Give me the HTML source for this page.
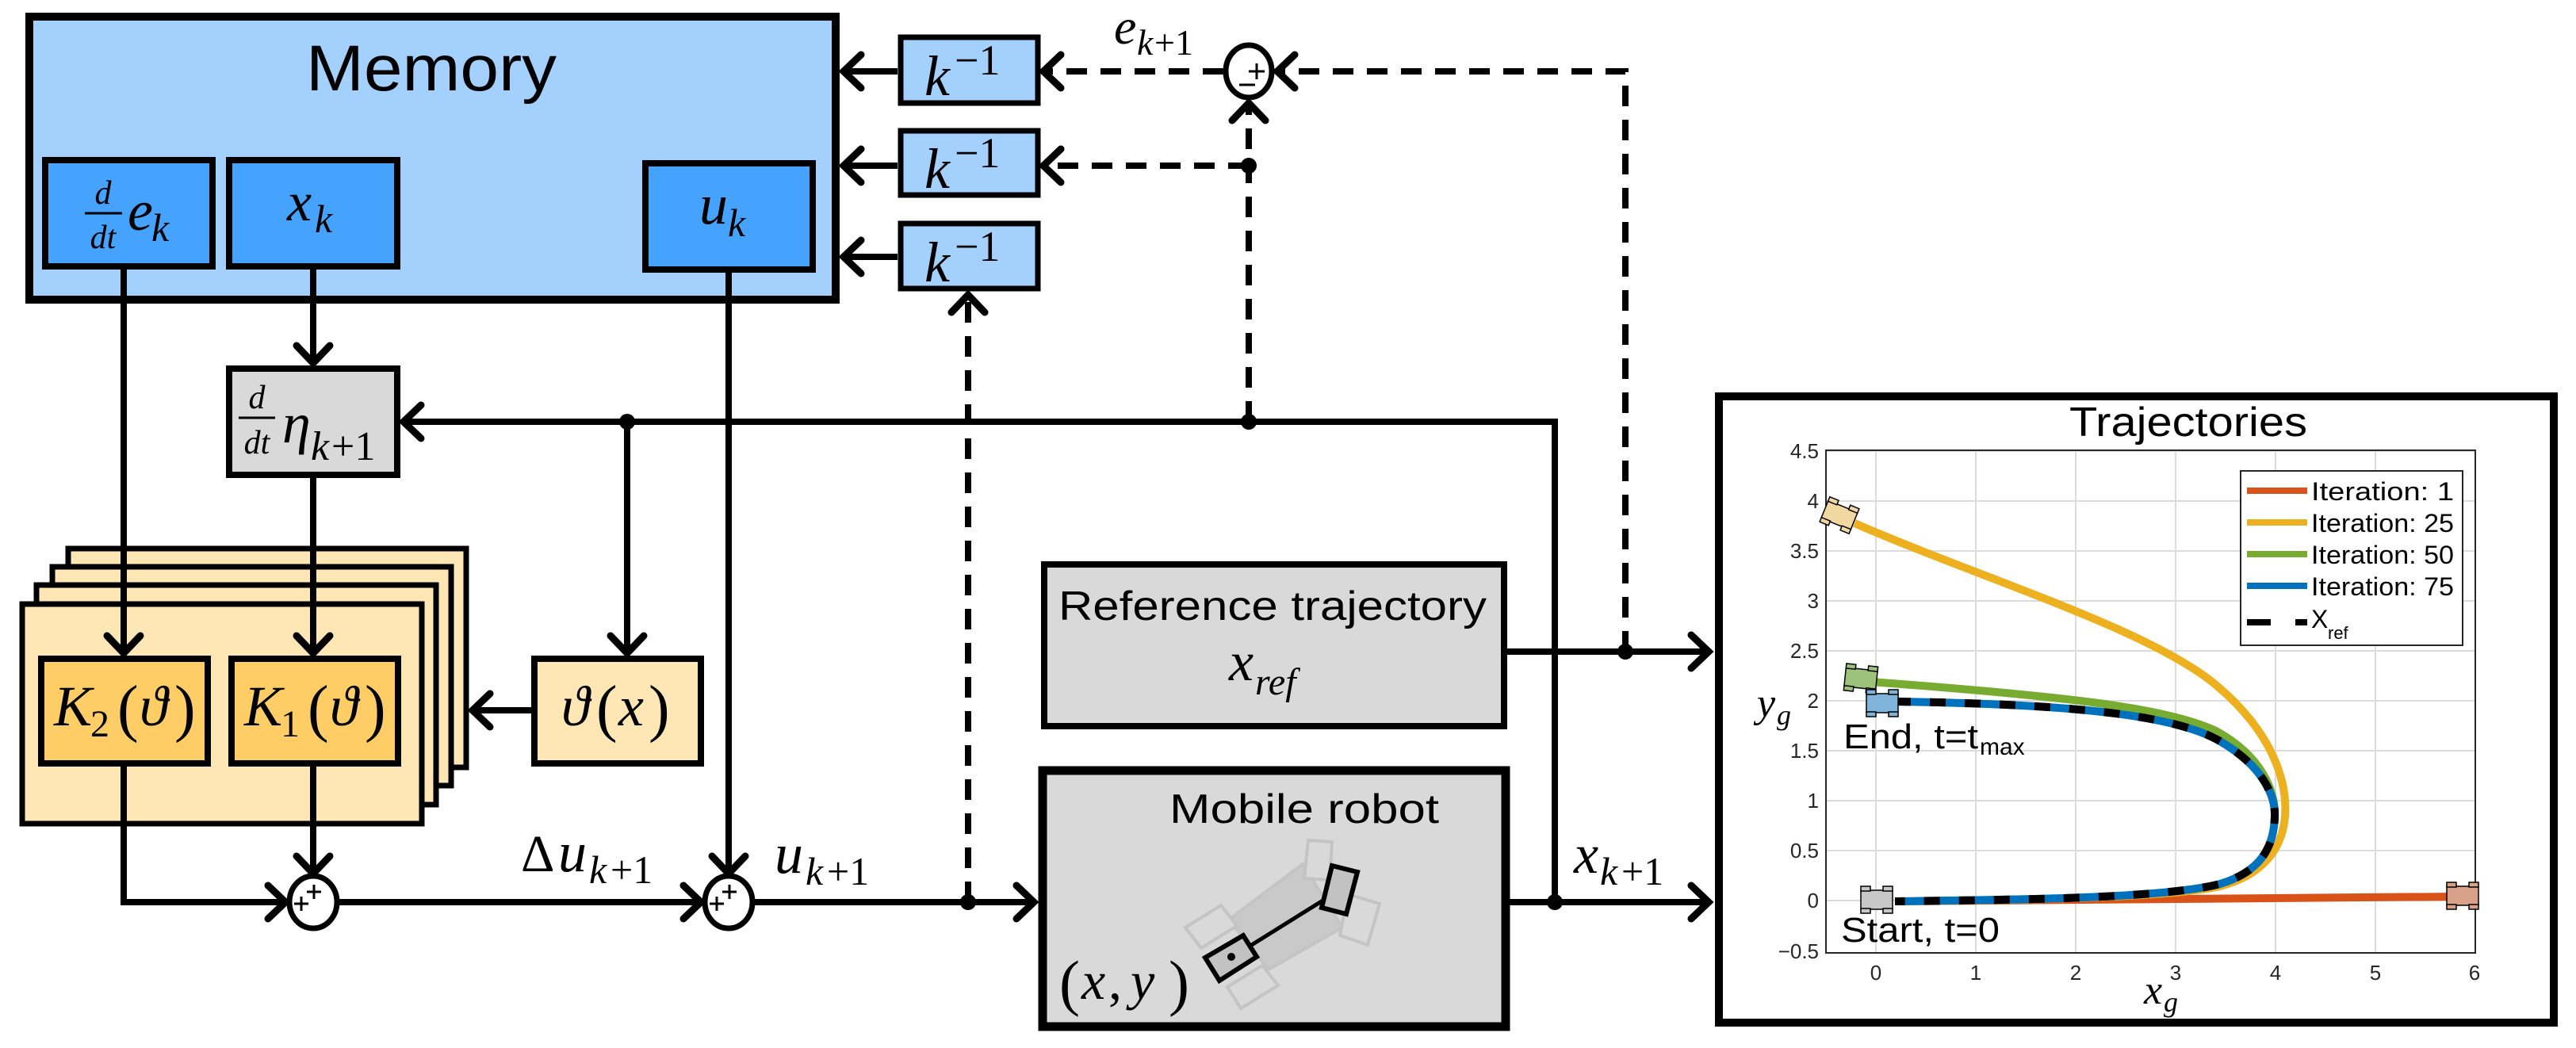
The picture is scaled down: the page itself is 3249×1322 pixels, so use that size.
<!DOCTYPE html>
<html><head><meta charset="utf-8"><style>html,body{margin:0;padding:0;background:#fff}svg{display:block}</style></head>
<body>
<svg width="3249" height="1322" viewBox="0 0 3249 1322" xmlns="http://www.w3.org/2000/svg">
<defs>
<marker id="a" markerUnits="userSpaceOnUse" viewBox="-40 -30 50 60" markerWidth="50" markerHeight="60" refX="0" refY="0" orient="auto">
<path d="M-24,-21 L-2,0 L-24,21" fill="none" stroke="#000" stroke-width="9" stroke-linecap="round" stroke-linejoin="miter"/>
</marker>
</defs>
<g font-family="Liberation Serif, serif" font-style="italic" fill="#000">

<rect x="37" y="21" width="1017" height="357" fill="#a3d0fd" stroke="#000" stroke-width="10"/>
<text x="544" y="114" font-family="Liberation Sans, sans-serif" font-style="normal" font-size="82" text-anchor="middle" textLength="316" lengthAdjust="spacingAndGlyphs">Memory</text>
<rect x="57" y="202" width="211" height="134" fill="#45a3fd" stroke="#000" stroke-width="8"/>
<rect x="289" y="202" width="212" height="134" fill="#45a3fd" stroke="#000" stroke-width="8"/>
<rect x="814" y="206" width="211" height="134" fill="#45a3fd" stroke="#000" stroke-width="8"/>
<text x="130" y="257" font-size="42" text-anchor="middle">d</text>
<line x1="107" y1="269" x2="154" y2="269" stroke="#000" stroke-width="3"/>
<text x="130" y="313" font-size="42" text-anchor="middle">dt</text>
<text x="161" y="290" font-size="72">e</text>
<text x="191" y="304" font-size="50">k</text>
<text x="362" y="278" font-size="70">x</text>
<text x="397" y="293" font-size="50">k</text>
<text x="882" y="282" font-size="72">u</text>
<text x="918" y="298" font-size="50">k</text>

<rect x="1136" y="47" width="173" height="83" fill="#a3d0fd" stroke="#000" stroke-width="7"/>
<rect x="1136" y="165" width="173" height="81" fill="#a3d0fd" stroke="#000" stroke-width="7"/>
<rect x="1136" y="282" width="173" height="82" fill="#a3d0fd" stroke="#000" stroke-width="7"/>
<g font-size="72">
<text x="1166" y="120">k</text><text x="1204" y="94" font-style="normal" font-size="54">−1</text>
<text x="1166" y="237">k</text><text x="1204" y="211" font-style="normal" font-size="54">−1</text>
<text x="1166" y="355">k</text><text x="1204" y="329" font-style="normal" font-size="54">−1</text>
</g>
<text x="1405" y="55" font-size="64">e</text>
<text x="1434" y="69" font-size="46">k</text><text x="1456" y="69" font-size="46" font-style="normal">+1</text>

<rect x="289" y="465" width="212" height="134" fill="#d9d9d9" stroke="#000" stroke-width="8"/>
<text x="324" y="515" font-size="42" text-anchor="middle">d</text>
<line x1="301" y1="527" x2="347" y2="527" stroke="#000" stroke-width="3"/>
<text x="324" y="572" font-size="42" text-anchor="middle">dt</text>
<text x="356" y="558" font-size="72">η</text>
<text x="392" y="580" font-size="52">k</text><text x="418" y="580" font-size="52" font-style="normal">+1</text>

<rect x="86" y="692" width="502" height="276" fill="#fee7b5" stroke="#000" stroke-width="7"/>
<rect x="66" y="715" width="503" height="276" fill="#fee7b5" stroke="#000" stroke-width="7"/>
<rect x="46" y="738" width="504" height="277" fill="#fee7b5" stroke="#000" stroke-width="7"/>
<rect x="28" y="762" width="504" height="277" fill="#fee7b5" stroke="#000" stroke-width="7"/>
<rect x="52" y="831" width="210" height="132" fill="#fecd66" stroke="#000" stroke-width="8"/>
<rect x="292" y="831" width="210" height="132" fill="#fecd66" stroke="#000" stroke-width="8"/>
<rect x="674" y="831" width="210" height="132" fill="#fee7b5" stroke="#000" stroke-width="8"/>
<text x="68" y="915" font-size="72">K</text><text x="114" y="929" font-size="48" font-style="normal">2</text>
<text x="148" y="920" font-size="80" font-style="normal">(</text><text x="176" y="915" font-size="72">ϑ</text><text x="220" y="920" font-size="80" font-style="normal">)</text>
<text x="308" y="915" font-size="72">K</text><text x="354" y="929" font-size="48" font-style="normal">1</text>
<text x="388" y="920" font-size="80" font-style="normal">(</text><text x="416" y="915" font-size="72">ϑ</text><text x="460" y="920" font-size="80" font-style="normal">)</text>
<text x="708" y="915" font-size="72">ϑ</text><text x="752" y="920" font-size="80" font-style="normal">(</text><text x="780" y="915" font-size="72">x</text><text x="818" y="920" font-size="80" font-style="normal">)</text>

<text x="657" y="1099" font-size="66" font-style="normal">Δ</text><text x="704" y="1099" font-size="72">u</text>
<text x="743" y="1114" font-size="50">k</text><text x="770" y="1114" font-size="50" font-style="normal">+1</text>
<text x="977" y="1101" font-size="72">u</text>
<text x="1016" y="1116" font-size="50">k</text><text x="1043" y="1116" font-size="50" font-style="normal">+1</text>

<rect x="1317" y="712" width="580" height="204" fill="#d9d9d9" stroke="#000" stroke-width="8"/>
<text x="1605" y="782" font-family="Liberation Sans, sans-serif" font-style="normal" font-size="52" text-anchor="middle" textLength="540" lengthAdjust="spacingAndGlyphs">Reference trajectory</text>
<text x="1550" y="858" font-size="70">x</text><text x="1583" y="876" font-size="48">ref</text>
<rect x="1315" y="972" width="584" height="323" fill="#d9d9d9" stroke="#000" stroke-width="11"/>
<text x="1645" y="1038" font-family="Liberation Sans, sans-serif" font-style="normal" font-size="52" text-anchor="middle" textLength="340" lengthAdjust="spacingAndGlyphs">Mobile robot</text>
<text x="1336" y="1266" font-size="78" font-style="normal">(</text><text x="1364" y="1260" font-size="68">x</text><text x="1398" y="1260" font-size="68" font-style="normal">,</text><text x="1426" y="1260" font-size="68">y</text><text x="1474" y="1266" font-size="78" font-style="normal">)</text>
<g stroke="#c4c4c4" stroke-width="4" fill="none">
<polygon points="1643,1090 1693,1170 1600,1223 1550,1160" fill="#c9c9c9"/>
<polygon points="1650,1060 1680,1062 1677,1110 1645,1108" fill="#d9d9d9"/>
<polygon points="1700,1128 1740,1140 1725,1192 1690,1180" fill="#d9d9d9"/>
<polygon points="1495,1170 1540,1142 1560,1168 1515,1196" fill="#d9d9d9"/>
<polygon points="1548,1245 1592,1218 1612,1243 1565,1272" fill="#d9d9d9"/>
</g>
<line x1="1577" y1="1193" x2="1670" y2="1135" stroke="#000" stroke-width="5"/>
<polygon points="1520,1208 1568,1180 1585,1207 1538,1237" fill="#c2c2c2" stroke="#000" stroke-width="6"/>
<circle cx="1553" cy="1207" r="5" fill="#000"/>
<polygon points="1680,1092 1712,1100 1698,1153 1667,1145" fill="#c2c2c2" stroke="#000" stroke-width="6"/>

<text x="1985" y="1101" font-size="70">x</text>
<text x="2018" y="1116" font-size="50">k</text><text x="2045" y="1116" font-size="50" font-style="normal">+1</text>
</g>

<g stroke="#000" stroke-width="8" fill="none">
<line x1="156" y1="340" x2="156" y2="826" marker-end="url(#a)"/>
<line x1="395" y1="340" x2="395" y2="460" marker-end="url(#a)"/>
<line x1="395" y1="603" x2="395" y2="826" marker-end="url(#a)"/>
<line x1="395" y1="967" x2="395" y2="1104" marker-end="url(#a)"/>
<polyline points="156,967 156,1138 362,1138" marker-end="url(#a)"/>
<line x1="427" y1="1138" x2="886" y2="1138" marker-end="url(#a)"/>
<line x1="919" y1="344" x2="919" y2="1104" marker-end="url(#a)"/>
<line x1="951" y1="1138" x2="1306" y2="1138" marker-end="url(#a)"/>
<polyline points="1961,1138 1961,532 507,532" marker-end="url(#a)"/>
<line x1="791" y1="532" x2="791" y2="826" marker-end="url(#a)"/>
<line x1="670" y1="896" x2="594" y2="896" marker-end="url(#a)"/>
<line x1="1132" y1="90" x2="1062" y2="90" marker-end="url(#a)"/>
<line x1="1132" y1="209" x2="1062" y2="209" marker-end="url(#a)"/>
<line x1="1132" y1="324" x2="1062" y2="324" marker-end="url(#a)"/>
<line x1="1901" y1="822" x2="2157" y2="822" marker-end="url(#a)"/>
<line x1="1904" y1="1138" x2="2157" y2="1138" marker-end="url(#a)"/>
</g>
<g stroke="#000" stroke-width="8" fill="none" stroke-dasharray="26 17">
<line x1="1221" y1="1138" x2="1221" y2="370" marker-end="url(#a)"/>
<line x1="1575" y1="532" x2="1575" y2="128" marker-end="url(#a)"/>
<line x1="1575" y1="209" x2="1314" y2="209" marker-end="url(#a)"/>
<line x1="1543" y1="90" x2="1314" y2="90" marker-end="url(#a)"/>
<polyline points="2050,822 2050,90 1609,90" marker-end="url(#a)"/>
</g>
<g fill="#000">
<circle cx="791" cy="532" r="10"/><circle cx="1575" cy="532" r="10"/><circle cx="1575" cy="209" r="10"/>
<circle cx="1221" cy="1138" r="10"/><circle cx="1961" cy="1138" r="10"/><circle cx="2050" cy="822" r="10"/>
</g>
<g stroke="#000" fill="#fff" stroke-width="7">
<ellipse cx="1575" cy="90" rx="29" ry="33"/>
<ellipse cx="395" cy="1138" rx="30" ry="33"/>
<ellipse cx="919" cy="1138" rx="30" ry="33"/>
</g>
<g stroke="#000" stroke-width="3">
<line x1="1575" y1="90" x2="1595" y2="90"/><line x1="1585" y1="80" x2="1585" y2="100"/>
<line x1="1563" y1="107" x2="1583" y2="107"/>
<line x1="387" y1="1125" x2="405" y2="1125"/><line x1="396" y1="1116" x2="396" y2="1134"/>
<line x1="371" y1="1140" x2="389" y2="1140"/><line x1="380" y1="1131" x2="380" y2="1149"/>
<line x1="911" y1="1125" x2="929" y2="1125"/><line x1="920" y1="1116" x2="920" y2="1134"/>
<line x1="895" y1="1140" x2="913" y2="1140"/><line x1="904" y1="1131" x2="904" y2="1149"/>
</g>

<rect x="2168" y="500" width="1053" height="790" fill="#fff" stroke="#000" stroke-width="10"/>
<text x="2760" y="550" font-family="Liberation Sans, sans-serif" font-size="52" text-anchor="middle" textLength="300" lengthAdjust="spacingAndGlyphs">Trajectories</text>
<g stroke="#dcdcdc" stroke-width="2">
<line x1="2366" y1="568" x2="2366" y2="1202"/><line x1="2492" y1="568" x2="2492" y2="1202"/><line x1="2618" y1="568" x2="2618" y2="1202"/><line x1="2744" y1="568" x2="2744" y2="1202"/><line x1="2870" y1="568" x2="2870" y2="1202"/><line x1="2996" y1="568" x2="2996" y2="1202"/>
<line x1="2303" y1="569" x2="3122" y2="569"/><line x1="2303" y1="632" x2="3122" y2="632"/><line x1="2303" y1="695" x2="3122" y2="695"/><line x1="2303" y1="758" x2="3122" y2="758"/><line x1="2303" y1="821" x2="3122" y2="821"/><line x1="2303" y1="884" x2="3122" y2="884"/><line x1="2303" y1="947" x2="3122" y2="947"/><line x1="2303" y1="1010" x2="3122" y2="1010"/><line x1="2303" y1="1073" x2="3122" y2="1073"/><line x1="2303" y1="1136" x2="3122" y2="1136"/>
</g>
<rect x="2303" y="568" width="819" height="634" fill="none" stroke="#262626" stroke-width="2"/>
<g font-family="Liberation Sans, sans-serif" font-size="26" fill="#262626" text-anchor="end">
<text x="2294" y="578">4.5</text><text x="2294" y="641">4</text><text x="2294" y="704">3.5</text><text x="2294" y="767">3</text><text x="2294" y="830">2.5</text><text x="2294" y="893">2</text><text x="2294" y="956">1.5</text><text x="2294" y="1019">1</text><text x="2294" y="1082">0.5</text><text x="2294" y="1145">0</text><text x="2294" y="1209">−0.5</text>
</g>
<g font-family="Liberation Sans, sans-serif" font-size="26" fill="#262626" text-anchor="middle">
<text x="2366" y="1236">0</text><text x="2492" y="1236">1</text><text x="2618" y="1236">2</text><text x="2744" y="1236">3</text><text x="2870" y="1236">4</text><text x="2996" y="1236">5</text><text x="3121" y="1236">6</text>
</g>
<text x="2216" y="904" font-family="Liberation Serif, serif" font-style="italic" font-size="52">y</text><text x="2241" y="914" font-family="Liberation Serif, serif" font-style="italic" font-size="36">g</text>
<text x="2704" y="1266" font-family="Liberation Serif, serif" font-style="italic" font-size="52">x</text><text x="2729" y="1276" font-family="Liberation Serif, serif" font-style="italic" font-size="36">g</text>

<g fill="none" stroke-width="10">
<path d="M2395,1137 L3100,1131" stroke="#d95319"/>
<path d="M2339,660 C2500,730 2700,790 2790,860 C2870,925 2885,990 2882,1030 C2878,1075 2850,1105 2800,1118 C2730,1133 2550,1135 2400,1137" stroke="#edb120"/>
<path d="M2359,860 C2600,878 2730,892 2795,922 C2855,955 2870,1000 2869,1030" stroke="#77ac30"/>
<path d="M2390,885 C2600,888 2740,900 2800,935 C2860,970 2870,1010 2869,1030 C2868,1070 2850,1100 2800,1115 C2730,1133 2550,1135 2390,1137" stroke="#0072bd"/>
<path d="M2390,885 C2600,888 2740,900 2800,935 C2860,970 2870,1010 2869,1030 C2868,1070 2850,1100 2800,1115 C2730,1133 2550,1135 2390,1137" stroke="#000" stroke-dasharray="20 24"/>
</g>
<g stroke="#000" stroke-width="1.5">
<g transform="translate(2320,650) rotate(22)" fill="#f0d8a0"><rect x="-20" y="-12" width="40" height="24"/><rect x="-20" y="-17" width="12" height="6"/><rect x="8" y="-17" width="12" height="6"/><rect x="-20" y="11" width="12" height="6"/><rect x="8" y="11" width="12" height="6"/></g>
<g transform="translate(2347,856) rotate(6)" fill="#9dc27a"><rect x="-20" y="-12" width="40" height="24"/><rect x="-20" y="-17" width="12" height="6"/><rect x="8" y="-17" width="12" height="6"/><rect x="-20" y="11" width="12" height="6"/><rect x="8" y="11" width="12" height="6"/></g>
<g transform="translate(2374,887)" fill="#7fb3d9"><rect x="-20" y="-12" width="40" height="24"/><rect x="-20" y="-17" width="12" height="6"/><rect x="8" y="-17" width="12" height="6"/><rect x="-20" y="11" width="12" height="6"/><rect x="8" y="11" width="12" height="6"/></g>
<g transform="translate(2367,1135)" fill="#c8c8c8"><rect x="-20" y="-12" width="40" height="24"/><rect x="-20" y="-17" width="12" height="6"/><rect x="8" y="-17" width="12" height="6"/><rect x="-20" y="11" width="12" height="6"/><rect x="8" y="11" width="12" height="6"/></g>
<g transform="translate(3106,1130)" fill="#d9a08a"><rect x="-20" y="-12" width="40" height="24"/><rect x="-20" y="-17" width="12" height="6"/><rect x="8" y="-17" width="12" height="6"/><rect x="-20" y="11" width="12" height="6"/><rect x="8" y="11" width="12" height="6"/></g>
</g>
<g font-family="Liberation Sans, sans-serif" fill="#000">
<text x="2325" y="944" font-size="44" textLength="170" lengthAdjust="spacingAndGlyphs">End, t=t</text><text x="2497" y="952" font-size="30">max</text>
<text x="2322" y="1188" font-size="44" textLength="200" lengthAdjust="spacingAndGlyphs">Start, t=0</text>
</g>
<rect x="2826" y="594" width="280" height="220" fill="#fff" stroke="#262626" stroke-width="2"/>
<g stroke-width="8">
<line x1="2834" y1="619" x2="2910" y2="619" stroke="#d95319"/>
<line x1="2834" y1="659" x2="2910" y2="659" stroke="#edb120"/>
<line x1="2834" y1="699" x2="2910" y2="699" stroke="#77ac30"/>
<line x1="2834" y1="739" x2="2910" y2="739" stroke="#0072bd"/>
<line x1="2834" y1="785" x2="2864" y2="785" stroke="#000"/>
<line x1="2895" y1="785" x2="2910" y2="785" stroke="#000"/>
</g>
<g font-family="Liberation Sans, sans-serif" font-size="32" fill="#000">
<text x="2915" y="631" textLength="180" lengthAdjust="spacingAndGlyphs">Iteration:  1</text>
<text x="2915" y="671" textLength="180" lengthAdjust="spacingAndGlyphs">Iteration:  25</text>
<text x="2915" y="711" textLength="180" lengthAdjust="spacingAndGlyphs">Iteration:  50</text>
<text x="2915" y="751" textLength="180" lengthAdjust="spacingAndGlyphs">Iteration:  75</text>
<text x="2915" y="792">X</text><text x="2936" y="806" font-size="22">ref</text>
</g>
</svg>
</body></html>
